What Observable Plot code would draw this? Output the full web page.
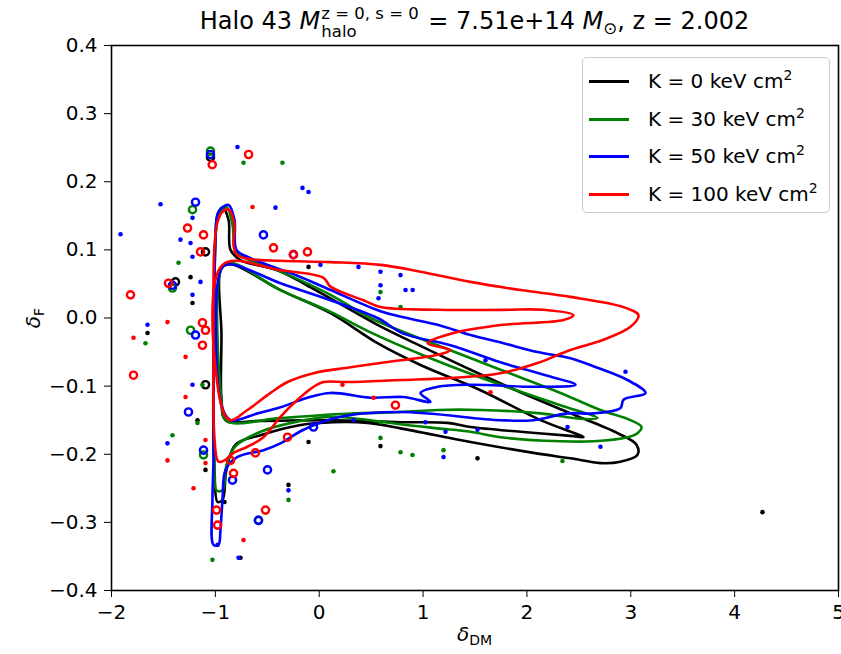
<!DOCTYPE html>
<html><head><meta charset="utf-8">
<script src="https://cdn.jsdelivr.net/npm/d3@7"></script>
<script src="https://cdn.jsdelivr.net/npm/@observablehq/plot@0.6"></script>
<style>
body{margin:0;background:#fff;font-family:"DejaVu Sans",sans-serif;color:#000;}
#wrap{position:relative;width:841px;height:654px;overflow:hidden;}
#wrap svg{position:absolute;left:0;top:0;}
.ov{position:absolute;white-space:nowrap;}
#title{left:111px;width:727px;top:0px;height:42px;text-align:center;font-size:24px;line-height:42px;}
.it{font-style:italic;}
.ss{display:inline-block;vertical-align:-8px;font-size:16.5px;line-height:18px;text-align:left;margin-left:1px;margin-right:2px;}
.ss span{display:block;}
.sub{font-size:0.7em;vertical-align:-0.3em;line-height:0;}
.sup{font-size:0.7em;vertical-align:0.55em;line-height:0;}
#xlab{left:111px;width:727px;top:621px;text-align:center;font-size:20px;line-height:26px;}
#ylab{left:33px;top:318px;font-size:20px;line-height:26px;transform:translate(-50%,-50%) rotate(-90deg);}
#legend{left:582px;top:57px;width:246px;height:154px;border:1.5px solid #cccccc;border-radius:5px;background:rgba(255,255,255,0.8);}
.row{position:absolute;left:0;height:30px;}
.row .ln{position:absolute;left:6px;width:40px;height:3px;top:14px;}
.row .tx{position:absolute;left:65px;top:0;font-size:20px;line-height:30px;white-space:nowrap;}
</style></head><body><div id="wrap"></div>
<script>
// ---------------- data ----------------
const legendLabels = ["K = 0 keV cm", "K = 30 keV cm", "K = 50 keV cm", "K = 100 keV cm"];
const xTicks = [-2, -1, 0, 1, 2, 3, 4, 5];
const yTicks = [-0.4, -0.3, -0.2, -0.1, 0, 0.1, 0.2, 0.3, 0.4];

// K = 0 keV cm^2
const k0Outer = [[-0.931,0.162],[-0.873,0.144],[-0.854,0.100],[-0.758,0.085],[-0.402,0.070],[0.012,0.037],[0.561,-0.010],[0.975,-0.041],[1.457,-0.076],[1.938,-0.109],[2.419,-0.140],[2.872,-0.169],[3.055,-0.186],[3.064,-0.201],[2.901,-0.211],[2.708,-0.213],[2.419,-0.206],[2.063,-0.198],[1.457,-0.182],[0.783,-0.162],[0.465,-0.154],[0.138,-0.153],[-0.180,-0.157],[-0.565,-0.172],[-0.806,-0.186],[-0.893,-0.223],[-0.931,-0.267],[-0.979,-0.270],[-1.008,-0.223],[-1.018,-0.179],[-1.018,-0.047],[-1.008,0.056],[-0.999,0.115],[-0.979,0.151]];
const k0Hole = [[-0.941,0.073],[-0.854,0.079],[-0.373,0.041],[0.109,0.007],[0.561,-0.037],[0.975,-0.069],[1.553,-0.106],[2.131,-0.150],[2.545,-0.175],[2.419,-0.173],[1.938,-0.167],[1.457,-0.160],[1.235,-0.154],[0.783,-0.153],[0.109,-0.150],[-0.565,-0.151],[-0.902,-0.150],[-0.941,-0.120],[-0.941,-0.026]];
const k0Loops = [[-1.047,0.236],[-1.095,0.097],[-1.384,0.053],[-1.095,-0.098]];
const k0Specks = [[-1.239,0.060],[-1.220,0.022],[-1.653,-0.022],[-1.172,-0.150],[-1.095,-0.223],[-0.912,-0.270],[-0.758,-0.352],[-0.296,-0.245],[-0.103,-0.182],[-0.103,0.075],[-0.103,0.048],[0.590,-0.188],[1.524,-0.206],[4.268,-0.285]];

// K = 30 keV cm^2
const k30Outer = [[-0.893,0.163],[-0.835,0.137],[-0.806,0.100],[-0.710,0.088],[-0.373,0.068],[0.109,0.034],[0.494,0.000],[1.139,-0.040],[1.745,-0.076],[2.323,-0.110],[2.708,-0.135],[2.997,-0.150],[3.103,-0.160],[3.064,-0.169],[2.968,-0.175],[2.641,-0.181],[2.323,-0.181],[1.745,-0.175],[1.457,-0.167],[1.139,-0.162],[0.783,-0.156],[0.494,-0.150],[0.109,-0.145],[-0.180,-0.151],[-0.565,-0.167],[-0.806,-0.188],[-0.893,-0.216],[-0.931,-0.253],[-0.989,-0.253],[-1.008,-0.209],[-1.018,-0.047],[-1.008,0.056],[-0.999,0.115],[-0.970,0.151]];
const k30Hole = [[-0.941,0.073],[-0.854,0.081],[-0.373,0.041],[0.109,0.009],[0.494,-0.021],[1.071,-0.059],[1.745,-0.098],[2.323,-0.128],[2.679,-0.147],[2.516,-0.148],[2.131,-0.140],[1.553,-0.135],[1.139,-0.135],[0.783,-0.138],[0.205,-0.141],[-0.373,-0.147],[-0.893,-0.151],[-0.941,-0.120]];
const k30Loops = [[-1.047,0.245],[-1.220,0.159],[-1.413,0.044],[-1.239,-0.018],[-0.585,-0.297],[-1.114,-0.201]];
const k30Specks = [[-0.729,0.228],[-0.354,0.228],[-1.355,0.081],[-1.673,-0.037],[-1.124,-0.098],[-1.172,-0.154],[-1.413,-0.172],[-1.028,-0.355],[0.137,-0.225],[-0.296,-0.267],[0.590,0.038],[0.783,0.016],[0.590,-0.153],[0.590,-0.176],[0.783,-0.197],[0.898,-0.201],[1.197,-0.194],[2.342,-0.210]];

// K = 50 keV cm^2
const k50Outer = [[-0.873,0.166],[-0.816,0.144],[-0.796,0.100],[-0.662,0.088],[-0.209,0.062],[0.109,0.041],[0.590,0.010],[0.811,0.001],[1.139,-0.010],[1.457,-0.025],[1.774,-0.037],[2.102,-0.050],[2.419,-0.059],[2.679,-0.073],[2.968,-0.091],[3.142,-0.110],[2.930,-0.120],[2.901,-0.132],[2.641,-0.140],[2.391,-0.140],[2.063,-0.150],[1.745,-0.150],[0.783,-0.138],[0.205,-0.145],[-0.151,-0.164],[-0.373,-0.184],[-0.537,-0.194],[-0.787,-0.204],[-0.902,-0.223],[-0.931,-0.267],[-0.951,-0.311],[-0.970,-0.333],[-1.018,-0.333],[-1.028,-0.267],[-1.018,-0.209],[-1.018,-0.047],[-1.008,0.056],[-0.999,0.115],[-0.970,0.156]];
const k50Hole = [[-0.941,0.073],[-0.854,0.079],[-0.373,0.051],[0.109,0.026],[0.561,0.000],[0.811,-0.023],[1.264,-0.040],[1.745,-0.065],[2.179,-0.084],[2.468,-0.098],[2.102,-0.101],[1.457,-0.098],[1.139,-0.101],[0.975,-0.110],[1.071,-0.123],[0.811,-0.116],[0.494,-0.117],[0.109,-0.110],[-0.113,-0.117],[-0.373,-0.131],[-0.594,-0.140],[-0.854,-0.150],[-0.941,-0.128]];
const k50Loops = [[-1.047,0.240],[-1.191,0.170],[-0.537,0.122],[-0.248,0.093],[-1.413,0.048],[-1.191,-0.025],[-1.259,-0.138],[-1.114,-0.194],[-0.835,-0.238],[-0.498,-0.223],[-0.585,-0.297],[-0.055,-0.160]];
const k50Specks = [[-0.787,0.251],[-0.161,0.191],[-0.103,0.185],[-1.220,0.147],[-1.528,0.167],[-0.421,0.162],[-1.913,0.123],[-1.336,0.115],[-1.239,0.110],[-1.220,0.090],[-1.143,0.053],[-1.220,0.034],[-1.653,-0.010],[-1.220,-0.098],[-1.461,-0.184],[-0.979,-0.333],[-0.777,-0.352],[-0.296,-0.253],[0.012,0.078],[0.378,0.075],[0.590,0.068],[0.590,0.048],[0.571,0.029],[0.783,0.063],[0.831,0.041],[0.900,0.041],[1.601,-0.062],[2.949,-0.079],[0.330,-0.150],[1.023,-0.153],[1.216,-0.167],[1.524,-0.164],[1.197,-0.204],[2.708,-0.189],[2.391,-0.160]];

// K = 100 keV cm^2
const k100Outer = [[-0.873,0.159],[-0.816,0.137],[-0.825,0.107],[-0.796,0.093],[-0.691,0.087],[-0.373,0.084],[0.109,0.082],[0.590,0.078],[0.975,0.068],[1.457,0.053],[1.938,0.041],[2.419,0.031],[2.930,0.016],[3.074,0.004],[2.997,-0.013],[2.737,-0.032],[2.419,-0.047],[2.102,-0.066],[1.745,-0.081],[1.264,-0.088],[0.783,-0.091],[0.272,-0.094],[0.041,-0.094],[-0.055,-0.101],[-0.209,-0.120],[-0.373,-0.145],[-0.537,-0.175],[-0.691,-0.189],[-0.825,-0.198],[-0.912,-0.209],[-0.970,-0.211],[-1.008,-0.179],[-1.018,-0.047],[-1.018,0.056],[-1.008,0.107],[-0.979,0.141],[-0.931,0.156]];
const k100Hole = [[-0.931,0.078],[-0.373,0.070],[0.041,0.059],[0.109,0.046],[0.426,0.026],[0.590,0.016],[1.139,0.012],[1.774,0.012],[2.159,0.012],[2.448,0.004],[2.352,-0.003],[1.774,-0.010],[1.293,-0.022],[1.043,-0.037],[1.264,-0.047],[1.139,-0.054],[0.590,-0.066],[0.272,-0.073],[-0.055,-0.081],[-0.305,-0.094],[-0.469,-0.110],[-0.691,-0.135],[-0.854,-0.150],[-0.931,-0.135]];
const k100Loops = [[-1.030,0.225],[-0.680,0.240],[-1.268,0.132],[-1.114,0.122],[-1.143,0.097],[-0.440,0.103],[-0.248,0.093],[-0.113,0.097],[-1.451,0.051],[-1.124,-0.007],[-1.095,-0.018],[-1.124,-0.040],[-1.788,-0.084],[-1.817,0.034],[-0.854,-0.209],[-0.825,-0.228],[-0.989,-0.282],[-0.979,-0.304],[-0.517,-0.282],[-0.614,-0.198],[-0.305,-0.175],[0.734,-0.128]];
const k100Specks = [[-0.642,0.163],[-1.461,-0.006],[-1.788,-0.029],[-1.287,-0.057],[-1.287,-0.116],[-1.461,-0.209],[-1.095,-0.179],[-1.095,-0.213],[-1.210,-0.250],[-0.729,-0.326],[0.224,-0.098],[0.523,-0.117],[1.649,-0.109]];

// ---------------- styles ----------------
const colors = ["#000000", "#008000", "#0000ff", "#ff0000"];
const groups = [
  [k0Outer, k0Hole, k0Loops, k0Specks],
  [k30Outer, k30Hole, k30Loops, k30Specks],
  [k50Outer, k50Hole, k50Loops, k50Specks],
  [k100Outer, k100Hole, k100Loops, k100Specks]
];

const X = d => d[0], Y = d => d[1];
const marks = [];
groups.forEach(([outer, hole, loops, specks], i) => {
  const c = colors[i];
  marks.push(Plot.line(outer, {x: X, y: Y, stroke: c, strokeWidth: 2.6, curve: "catmull-rom-closed", strokeLinejoin: "round"}));
  marks.push(Plot.line(hole, {x: X, y: Y, stroke: c, strokeWidth: 2.6, curve: "catmull-rom-closed", strokeLinejoin: "round"}));
  marks.push(Plot.dot(loops, {x: X, y: Y, r: 3.6, stroke: c, strokeWidth: 2.4, fill: "none"}));
  marks.push(Plot.dot(specks, {x: X, y: Y, r: 2.3, fill: c, stroke: "none"}));
});
marks.push(Plot.frame({stroke: "black", strokeWidth: 1.6}));

const chart = Plot.plot({
  width: 841, height: 654,
  marginTop: 45, marginBottom: 64, marginLeft: 111, marginRight: 3,
  style: {fontFamily: '"DejaVu Sans", sans-serif', fontSize: "20px", color: "black", background: "white"},
  x: {domain: [-2, 5], ticks: xTicks, tickFormat: d3.format("d"), tickSize: 7, tickPadding: 7, label: null},
  y: {domain: [-0.4, 0.4], ticks: yTicks, tickFormat: d3.format(".1f"), tickSize: 7, tickPadding: 7, label: null},
  marks
});

const wrap = document.getElementById("wrap");
wrap.appendChild(chart);

// title, axis labels, legend
const title = document.createElement("div");
title.className = "ov"; title.id = "title";
title.innerHTML = 'Halo 43 <span class="it">M</span><span class="ss"><span>z = 0, s = 0</span><span>halo</span></span> = 7.51e+14 <span class="it">M</span><span class="sub">⊙</span>, z = 2.002';
wrap.appendChild(title);

const xl = document.createElement("div");
xl.className = "ov"; xl.id = "xlab";
xl.innerHTML = '<span class="it">δ</span><span class="sub">DM</span>';
wrap.appendChild(xl);

const yl = document.createElement("div");
yl.className = "ov"; yl.id = "ylab";
yl.innerHTML = '<span class="it">δ</span><span class="sub">F</span>';
wrap.appendChild(yl);

const lg = document.createElement("div");
lg.className = "ov"; lg.id = "legend";
legendLabels.forEach((lab, i) => {
  const row = document.createElement("div");
  row.className = "row";
  row.style.top = Math.round(8 + i * 37.5) + "px";
  row.innerHTML = `<div class="ln" style="background:${colors[i]}"></div><div class="tx">${lab}<span class="sup">2</span></div>`;
  lg.appendChild(row);
});
wrap.appendChild(lg);
</script></body></html>
